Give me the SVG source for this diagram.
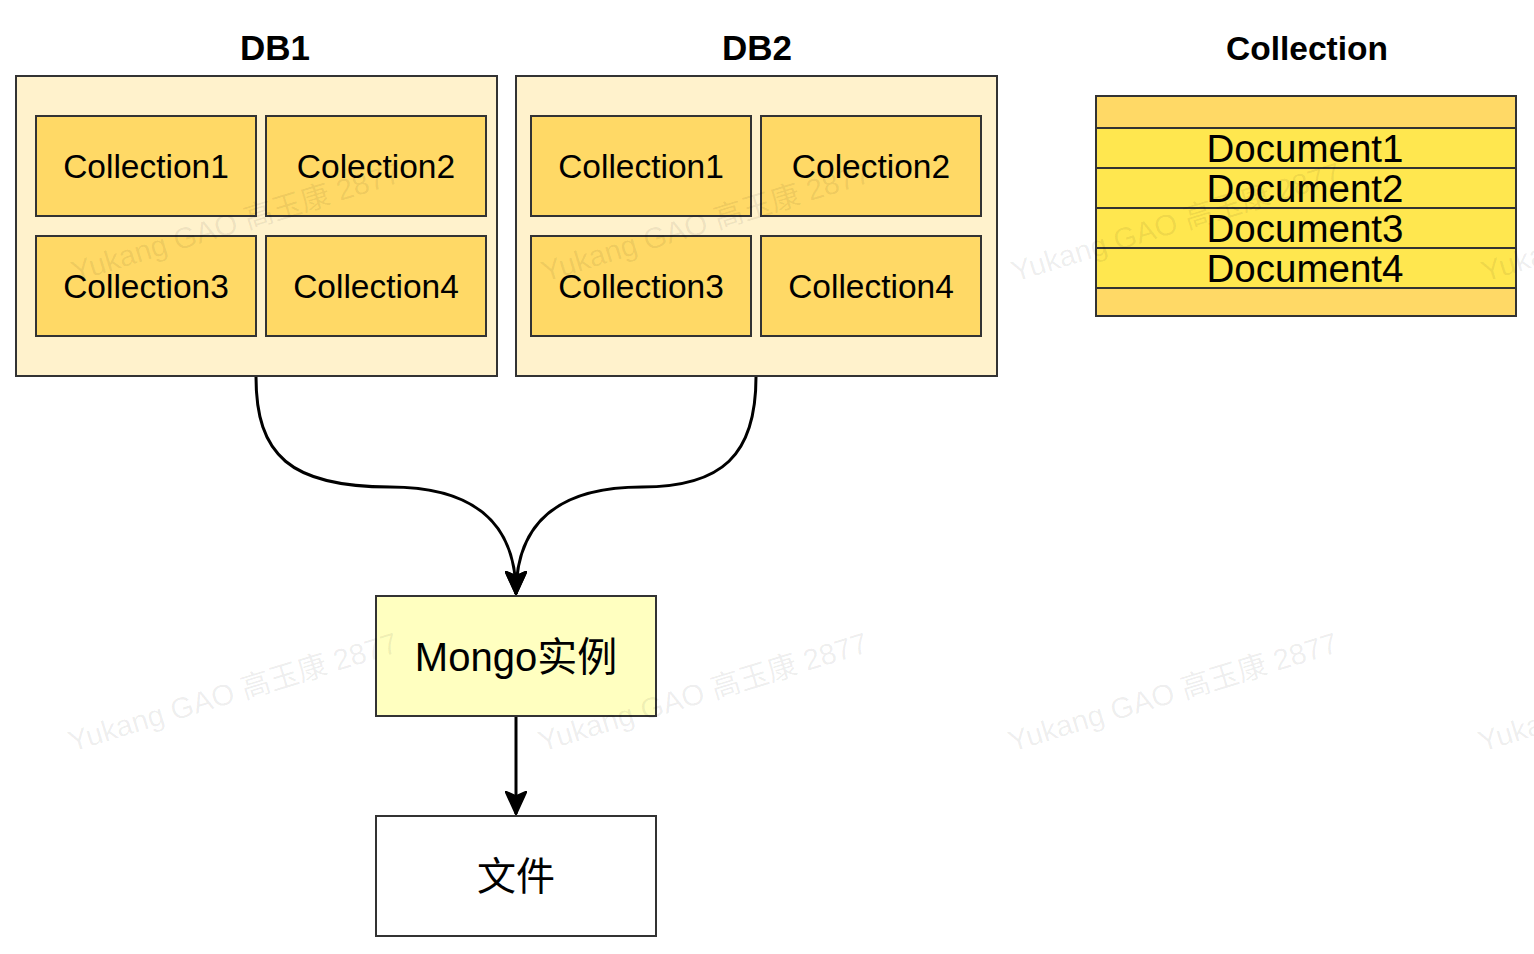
<svg xmlns="http://www.w3.org/2000/svg" width="1534" height="954" viewBox="0 0 1534 954">
<style>
.db{fill:#FFF2CC;stroke:#333;stroke-width:2}
.col{fill:#FFD966;stroke:#333;stroke-width:2}
.hdr{fill:#FFD966;stroke:#333;stroke-width:2}
.doc{fill:#FFE74F;stroke:#333;stroke-width:2}
.t{font-family:"Liberation Sans",Arial,"Noto Sans CJK SC",sans-serif;fill:#000;text-anchor:middle}
.c{font-size:33.5px}
.d{font-size:38.5px}
.b{font-weight:bold}
.edge{fill:none;stroke:#000;stroke-width:3}
.wm{font-family:"Liberation Sans",Arial,"Noto Sans CJK SC",sans-serif;font-size:29.5px;fill:#000;fill-opacity:0.07}
</style>
<defs>
<marker id="arr" viewBox="0 0 24 22" refX="23" refY="11" markerWidth="24" markerHeight="22" markerUnits="userSpaceOnUse" orient="auto">
<path d="M0,0 L24,11 L0,22 L5,11 Z" fill="#000" stroke="#000" stroke-width="1.5" stroke-linejoin="miter"/>
</marker>
</defs>
<rect width="1534" height="954" fill="#fff"/>

<g id="db1">
<text class="t b" x="275" y="60" font-size="35">DB1</text>
<rect class="db" x="16" y="76" width="481" height="300"/>
<g id="db1-c1"><rect class="col" x="36" y="116" width="220" height="100"/><text class="t c" x="146" y="177.5">Collection1</text></g>
<g id="db1-c2"><rect class="col" x="266" y="116" width="220" height="100"/><text class="t c" x="376" y="177.5">Colection2</text></g>
<g id="db1-c3"><rect class="col" x="36" y="236" width="220" height="100"/><text class="t c" x="146" y="297.5">Collection3</text></g>
<g id="db1-c4"><rect class="col" x="266" y="236" width="220" height="100"/><text class="t c" x="376" y="297.5">Collection4</text></g>
</g>

<g id="db2">
<text class="t b" x="757" y="60" font-size="35">DB2</text>
<rect class="db" x="516" y="76" width="481" height="300"/>
<g id="db2-c1"><rect class="col" x="531" y="116" width="220" height="100"/><text class="t c" x="641" y="177.5">Collection1</text></g>
<g id="db2-c2"><rect class="col" x="761" y="116" width="220" height="100"/><text class="t c" x="871" y="177.5">Colection2</text></g>
<g id="db2-c3"><rect class="col" x="531" y="236" width="220" height="100"/><text class="t c" x="641" y="297.5">Collection3</text></g>
<g id="db2-c4"><rect class="col" x="761" y="236" width="220" height="100"/><text class="t c" x="871" y="297.5">Collection4</text></g>
</g>

<g id="collection">
<text class="t b" x="1307" y="60" font-size="33.5">Collection</text>
<rect class="hdr" x="1096" y="96" width="420" height="220"/>
<rect class="doc" x="1096" y="128" width="420" height="40"/>
<rect class="doc" x="1096" y="168" width="420" height="40"/>
<rect class="doc" x="1096" y="208" width="420" height="40"/>
<rect class="doc" x="1096" y="248" width="420" height="40"/>
<text class="t d" x="1305" y="162">Document1</text>
<text class="t d" x="1305" y="202">Document2</text>
<text class="t d" x="1305" y="242">Document3</text>
<text class="t d" x="1305" y="282">Document4</text>
</g>

<g id="mongo">
<rect x="376" y="596" width="280" height="120" fill="#FFFFC0" stroke="#333" stroke-width="2"/>
<text class="t" x="516" y="671" font-size="40">Mongo实例</text>
</g>

<g id="file">
<rect x="376" y="816" width="280" height="120" fill="#fff" stroke="#333" stroke-width="2"/>
<text class="t" x="516" y="890" font-size="39">文件</text>
</g>

<g id="connectors">
<path class="edge" d="M256,377 C256,455 290,487 390,487 C470,487 516,520 516,594" marker-end="url(#arr)"/>
<path class="edge" d="M756,377 C756,455 722,487 642,487 C562,487 516,520 516,594" marker-end="url(#arr)"/>
<path class="edge" d="M516,717 L516,814" marker-end="url(#arr)"/>
</g>

<g id="watermarks">
<text class="wm" transform="translate(75,282) rotate(-17)">Yukang GAO 高玉康 2877</text>
<text class="wm" transform="translate(545,282) rotate(-17)">Yukang GAO 高玉康 2877</text>
<text class="wm" transform="translate(1015,282) rotate(-17)">Yukang GAO 高玉康 2877</text>
<text class="wm" transform="translate(1485,282) rotate(-17)">Yukang GAO 高玉康 2877</text>
<text class="wm" transform="translate(72,752) rotate(-17)">Yukang GAO 高玉康 2877</text>
<text class="wm" transform="translate(542,752) rotate(-17)">Yukang GAO 高玉康 2877</text>
<text class="wm" transform="translate(1012,752) rotate(-17)">Yukang GAO 高玉康 2877</text>
<text class="wm" transform="translate(1482,752) rotate(-17)">Yukang GAO 高玉康 2877</text>
</g>
</svg>
